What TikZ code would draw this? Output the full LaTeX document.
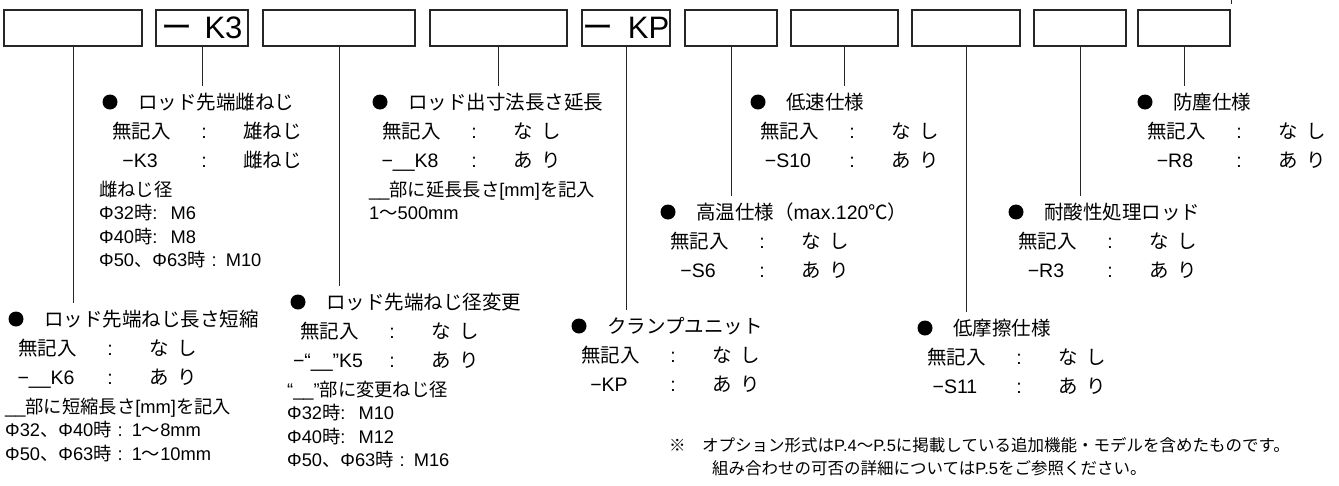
\documentclass[tikz,border=0pt]{standalone}
\usepackage{fontspec}
\setmainfont{Liberation Sans}
\newfontfamily\jpfont{Noto Sans CJK JP}
\newcommand{\J}[1]{{\jpfont #1}}
\newcommand{\nashi}{\J{な\hspace{9pt}し}}
\newcommand{\ari}{\J{あ\hspace{9pt}り}}
\newcommand{\colA}{\hspace{6pt}:\hspace{9pt}}
\newcommand{\colB}{:\hspace{13pt}}
% #1 id, #2 lx, #3 hy, #4 heading, #5 code, #6 value 1, #7 value 2
\newcommand{\optblk}[7]{%
  \node[dot] (#1d) at ({#2-2},#3) {};
  \node[hd] (#1h) at ({#2+26},{#3+7}) {#4};
  \node[hd] (#1n) at (#2,{#3+36}) {\J{無記入}};
  \node[hdc] (#1c) at ({#2+28},{#3+65}) {#5};
  \node[hdc] (#1k) at ({#2+92},{#3+36}) {:};
  \node[hdc] (#1l) at ({#2+92},{#3+65}) {:};
  \node[hd] (#1v) at ({#2+131},{#3+36}) {#6};
  \node[hd] (#1w) at ({#2+131},{#3+65}) {#7};
}
\begin{document}
\begin{tikzpicture}[x=1pt,y=-1pt,
  optbox/.style={draw=black!85, line width=1.1pt, minimum height=36pt, inner sep=0pt, font=\fontsize{31}{31}\selectfont},
  conn/.style={draw=black!85, line width=1pt},
  dot/.style={circle, fill=black, inner sep=0pt, minimum size=15pt},
  hd/.style={inner sep=0pt, anchor=base west, font=\fontsize{19.5}{24}\selectfont},
  hdc/.style={inner sep=0pt, anchor=base, font=\fontsize{19.5}{24}\selectfont},
  subt/.style={inner sep=0pt, anchor=base west, font=\fontsize{18.3}{20}\selectfont},
  note/.style={inner sep=0pt, anchor=base west, font=\fontsize{16.5}{20}\selectfont},
]
\useasboundingbox (0,0) rectangle (1339,485);

% boxes
\node[optbox, minimum width=138pt] (b1) at (73,28) {};
\node[optbox, minimum width=92pt] (b2) at (202,28) {\J{ー}\hspace{12pt}K3};
\node[optbox, minimum width=152pt] (b3) at (339,28) {};
\node[optbox, minimum width=137pt] (b4) at (498.5,28) {};
\node[optbox, minimum width=88pt] (b5) at (626,28) {\J{ー}\hspace{14pt}KP};
\node[optbox, minimum width=92pt] (b6) at (731,28) {};
\node[optbox, minimum width=107pt] (b7) at (844.5,28) {};
\node[optbox, minimum width=108pt] (b8) at (966,28) {};
\node[optbox, minimum width=92pt] (b9) at (1080,28) {};
\node[optbox, minimum width=92pt] (b10) at (1184,28) {};
\coordinate (tk1) at (1231,0);
\coordinate (tk2) at (1231,4);
\draw[conn] (tk1) -- (tk2);

% blocks
\optblk{A}{18}{319}{\J{ロッド先端ねじ長さ短縮}}{−\_\_K6}{\nashi}{\ari}
\node[subt] (A1) at (5,413) {\_\_\J{部に短縮長さ}[mm]\J{を記入}};
\node[subt] (A2) at (5,436.5) {Φ32\J{、}Φ40\J{時}\colA 1\J{〜}8mm};
\node[subt] (A3) at (5,460) {Φ50\J{、}Φ63\J{時}\colA 1\J{〜}10mm};

\optblk{B}{112}{102}{\J{ロッド先端雌ねじ}}{−K3}{\J{雄ねじ}}{\J{雌ねじ}}
\node[subt] (B1) at (99,196) {\J{雌ねじ径}};
\node[subt] (B2) at (99,219.5) {Φ32\J{時}\colB M6};
\node[subt] (B3) at (99,243) {Φ40\J{時}\colB M8};
\node[subt] (B4) at (99,266.5) {Φ50\J{、}Φ63\J{時}\colA M10};

\optblk{C}{300}{302}{\J{ロッド先端ねじ径変更}}{−“\_\_”K5}{\nashi}{\ari}
\node[subt] (C1) at (287,396) {“\_\_”\J{部に変更ねじ径}};
\node[subt] (C2) at (287,419.5) {Φ32\J{時}\colB M10};
\node[subt] (C3) at (287,443) {Φ40\J{時}\colB M12};
\node[subt] (C4) at (287,466.5) {Φ50\J{、}Φ63\J{時}\colA M16};

\optblk{D}{382}{102}{\J{ロッド出寸法長さ延長}}{−\_\_K8}{\nashi}{\ari}
\node[subt] (D1) at (369,196) {\_\_\J{部に延長長さ}[mm]\J{を記入}};
\node[subt] (D2) at (369,219.5) {1\J{〜}500mm};

\optblk{E}{581}{326}{\J{クランプユニット}}{−KP}{\nashi}{\ari}
\optblk{F}{670}{212}{\J{高温仕様（}max.120\J{℃）}}{−S6}{\nashi}{\ari}
\optblk{G}{760}{102}{\J{低速仕様}}{−S10}{\nashi}{\ari}
\optblk{H}{927}{328}{\J{低摩擦仕様}}{−S11}{\nashi}{\ari}
\optblk{I}{1018}{212}{\J{耐酸性処理ロッド}}{−R3}{\nashi}{\ari}
\optblk{J}{1147}{102}{\J{防塵仕様}}{−R8}{\nashi}{\ari}

% connectors
\coordinate (Ae) at (73,303);
\coordinate (Be) at (202,86);
\coordinate (Ce) at (339,286);
\coordinate (De) at (498.5,86);
\coordinate (Ee) at (626,310);
\coordinate (Fe) at (731,196);
\coordinate (Ge) at (844.5,86);
\coordinate (He) at (966,312);
\coordinate (Ie) at (1080,196);
\coordinate (Je) at (1184,86);
\draw[conn] (b1.south) -- (Ae);
\draw[conn] (b2.south) -- (Be);
\draw[conn] (b3.south) -- (Ce);
\draw[conn] (b4.south) -- (De);
\draw[conn] (b5.south) -- (Ee);
\draw[conn] (b6.south) -- (Fe);
\draw[conn] (b7.south) -- (Ge);
\draw[conn] (b8.south) -- (He);
\draw[conn] (b9.south) -- (Ie);
\draw[conn] (b10.south) -- (Je);

% note
\node[note] (n0) at (669,451) {\J{※}};
\node[note] (n1) at (702,451) {\J{オプション形式は}P.4\J{〜}P.5\J{に掲載している追加機能・モデルを含めたものです。}};
\node[note] (n2) at (712,474) {\J{組み合わせの可否の詳細については}P.5\J{をご参照ください。}};
\end{tikzpicture}
\end{document}
